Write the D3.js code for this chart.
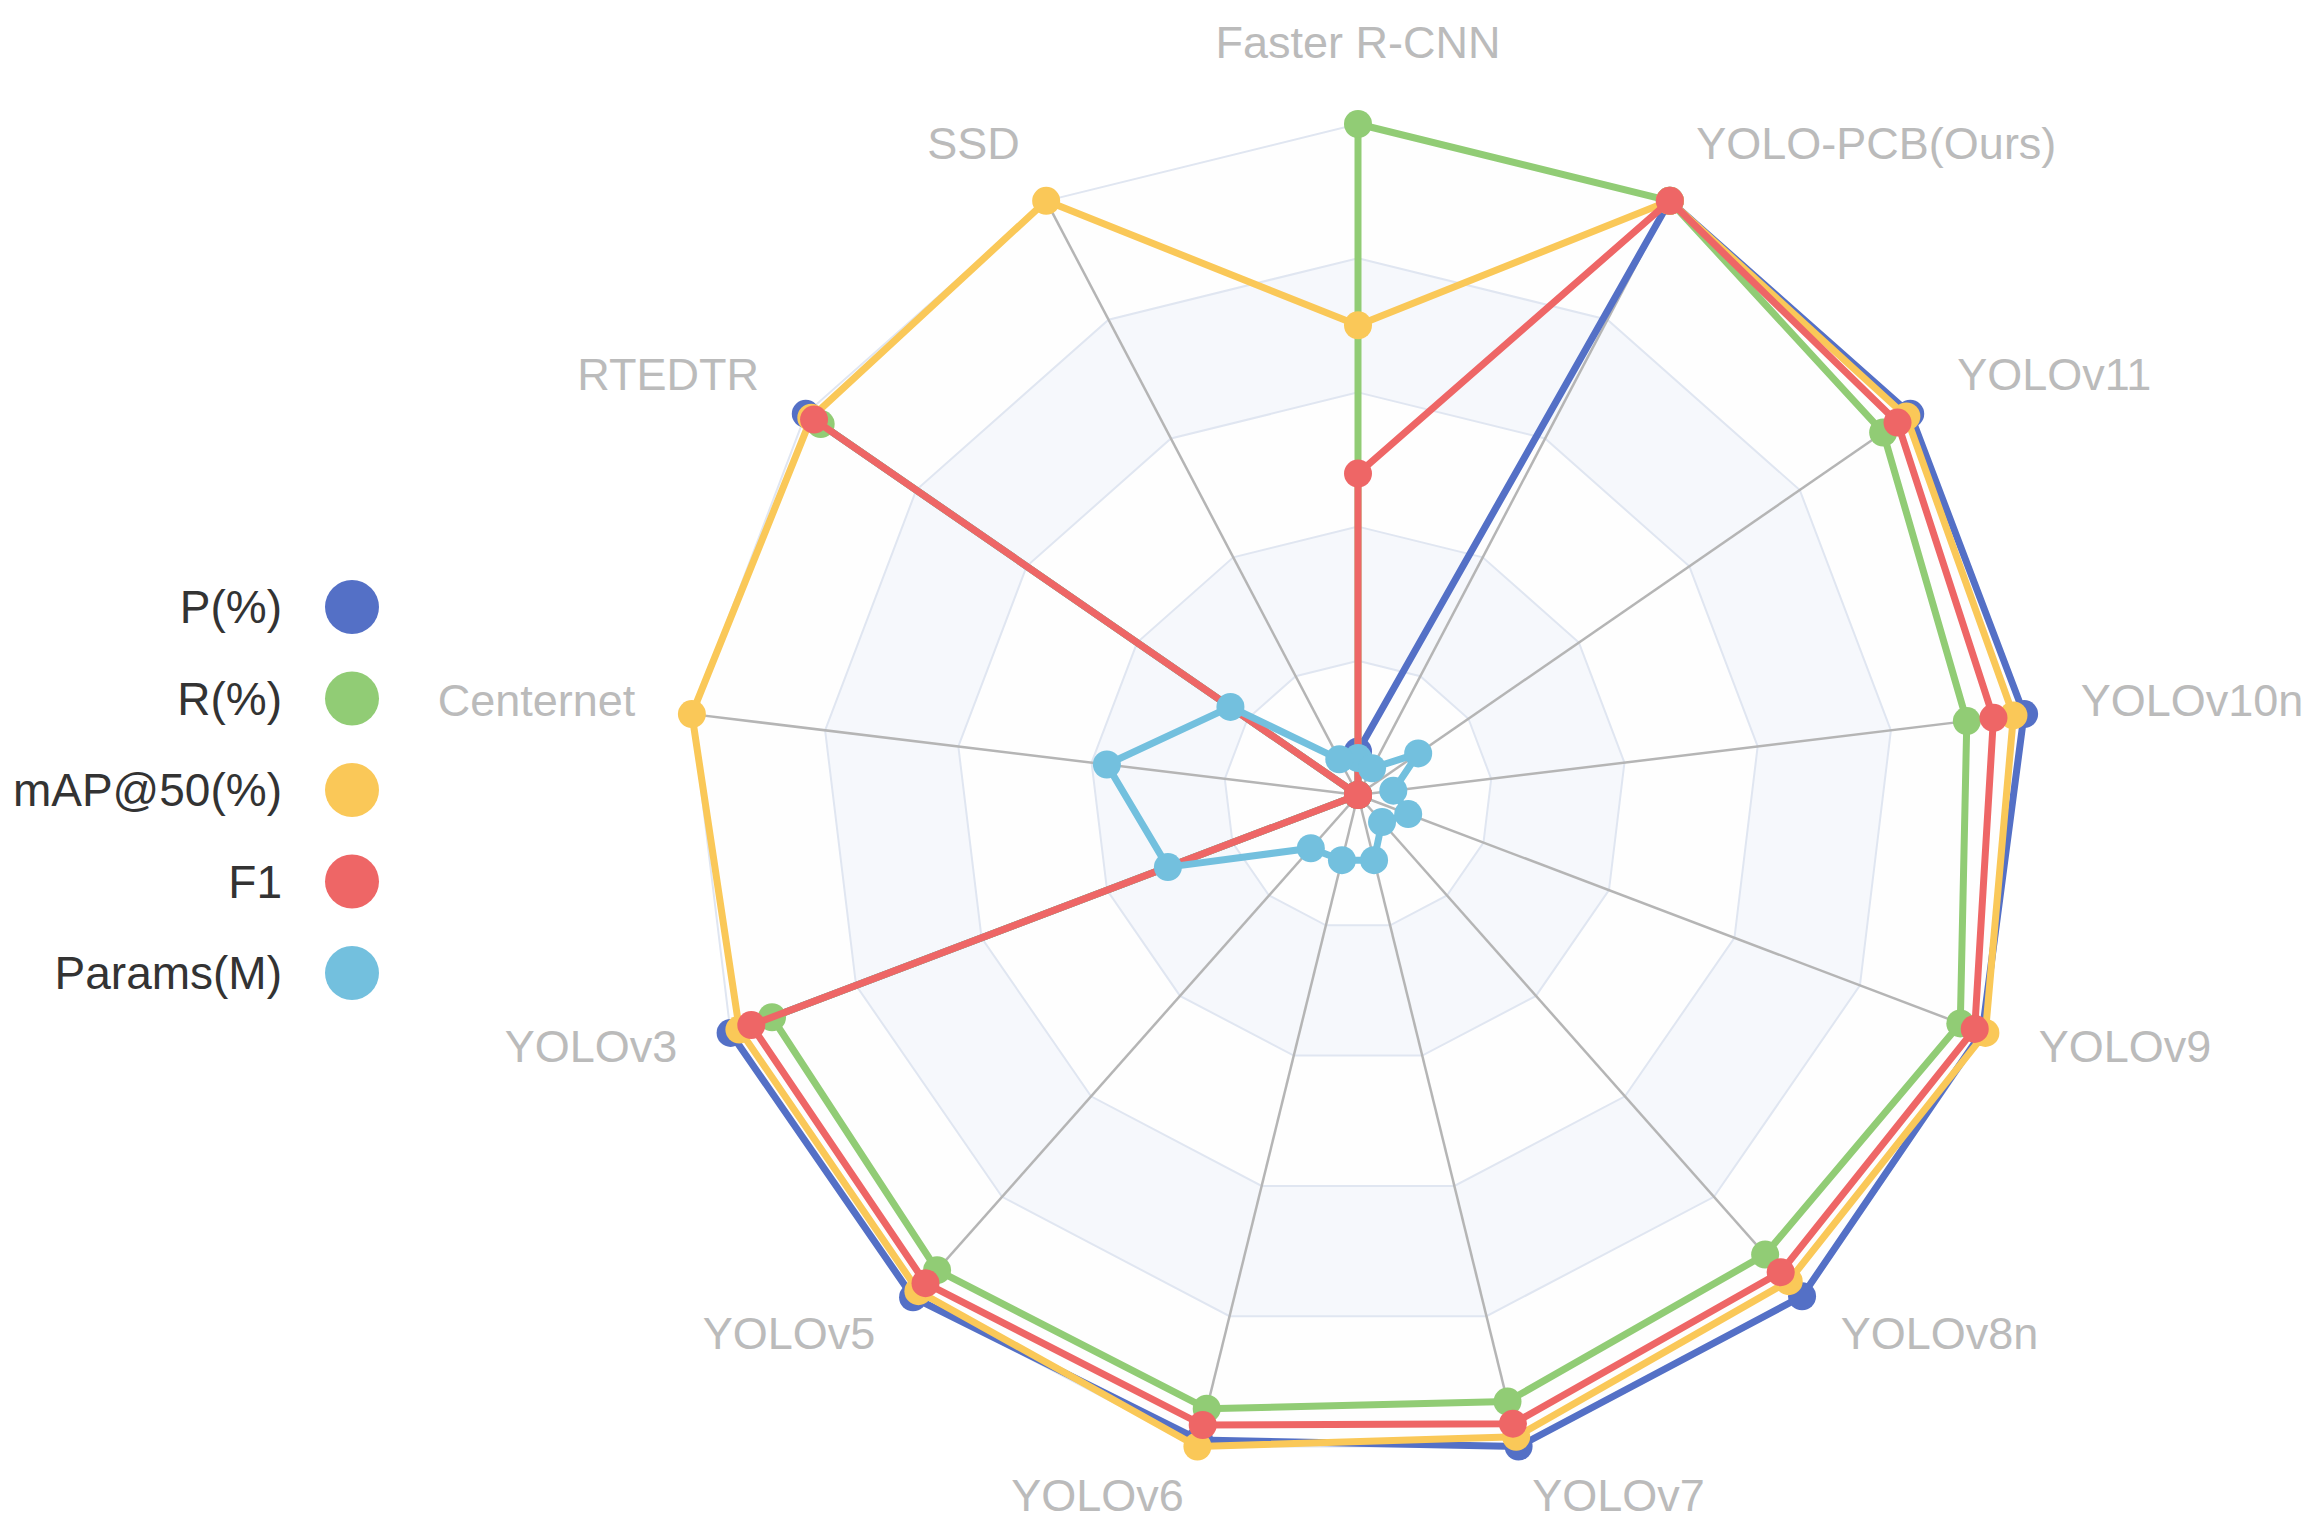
<!DOCTYPE html>
<html>
<head>
<meta charset="utf-8">
<script src="https://cdn.jsdelivr.net/npm/d3@7"></script>
<style>
  body { margin: 0; background: #fff; }
  svg text { font-family: "Liberation Sans", Arial, sans-serif; }
</style>
</head>
<body>
<div id="chart"></div>
<script>
// Canvas and radar geometry
var width  = 2321;
var height = 1535;
var cx = 1358, cy = 795;
var radius = 671;

// Axes (indicators), clockwise from the top
var models = ["Faster R-CNN", "YOLO-PCB(Ours)", "YOLOv11", "YOLOv10n", "YOLOv9",
              "YOLOv8n", "YOLOv7", "YOLOv6", "YOLOv5", "YOLOv3", "Centernet",
              "RTEDTR", "SSD"];

// Series names and colours
var seriesNames = ["P(%)", "R(%)", "mAP@50(%)", "F1", "Params(M)"];
var colors = ["#5470c6", "#91cc75", "#fac858", "#ee6666", "#73c0de"];

// Values (percent of the axis range)
var pValues      = [6.5, 100, 100, 100, 99.5, 99.8, 100, 99, 100, 100, 0, 100, 0];
var rValues      = [100, 100, 95.1, 91.4, 96, 91.5, 93.1, 94.2, 94.6, 93.4, 0, 97.3, 0];
var mapValues    = [70, 100, 99.3, 98.4, 100, 96.8, 98.5, 100, 98.8, 98.6, 100, 99, 100];
var f1Values     = [47.9, 100, 97.7, 95.4, 98.3, 95, 96.5, 96.7, 97.2, 96.7, 0, 98.5, 0];
var paramsValues = [5.5, 4.5, 10.9, 5.3, 8, 5.4, 10, 10, 10.6, 30.3, 37.7, 23.1, 6];

// Split levels of the radar
var levels = [0, 20, 40, 60, 80, 100];

var allSeries = [pValues, rValues, mapValues, f1Values, paramsValues];

var svg = d3.select("#chart").append("svg")
    .attr("width", width)
    .attr("height", height);

svg.append("rect")
    .attr("width", width)
    .attr("height", height)
    .attr("fill", "#fff");

var rScale = d3.scaleLinear().domain([0, 100]).range([0, radius]);
var angle  = d3.scaleLinear().domain([0, models.length]).range([0, 2 * Math.PI]);

var g = svg.append("g").attr("transform", "translate(" + cx + "," + cy + ")");

function pt(i, v) {
    var a = angle(i), r = rScale(v);
    return [r * Math.sin(a), -r * Math.cos(a)];
}

function ringPath(v) {
    return "M" + models.map(function(d, i) { return pt(i, v).join(","); }).join("L") + "Z";
}

// Alternating split areas
var bandColors = ["rgba(250,250,250,0.2)", "rgba(210,219,238,0.2)"];
for (var k = 1; k < levels.length; k++) {
    g.append("path")
        .attr("d", ringPath(levels[k]) + (levels[k - 1] > 0 ? ringPath(levels[k - 1]) : ""))
        .attr("fill-rule", "evenodd")
        .attr("fill", bandColors[(k - 1) % 2]);
}

// Split lines
g.selectAll(".split")
    .data(levels.slice(1))
    .enter().append("path")
    .attr("class", "split")
    .attr("d", ringPath)
    .attr("fill", "none")
    .attr("stroke", "#e0e6f1")
    .attr("stroke-width", 2);

// Axis lines
g.selectAll(".axis")
    .data(models)
    .enter().append("line")
    .attr("class", "axis")
    .attr("x1", 0).attr("y1", 0)
    .attr("x2", function(d, i) { return pt(i, 100)[0]; })
    .attr("y2", function(d, i) { return pt(i, 100)[1]; })
    .attr("stroke", "#b5b5b5")
    .attr("stroke-width", 2.5);

// Axis names
var nameR = radius + 57;
g.selectAll(".name")
    .data(models)
    .enter().append("text")
    .attr("class", "name")
    .attr("x", function(d, i) { return nameR * Math.sin(angle(i)); })
    .attr("y", function(d, i) { return -nameR * Math.cos(angle(i)); })
    .attr("text-anchor", function(d, i) {
        var s = Math.sin(angle(i));
        return Math.abs(s) < 0.01 ? "middle" : (s > 0 ? "start" : "end");
    })
    .attr("dy", function(d, i) {
        var c = Math.cos(angle(i));
        return Math.abs(c) > 0.99 ? (c > 0 ? "-0.2em" : "0.9em") : "0.2em";
    })
    .attr("font-size", "45px")
    .attr("fill", "#bbb")
    .text(function(d) { return d; });

// Series lines and markers
var line = d3.lineRadial()
    .angle(function(d, i) { return angle(i); })
    .radius(function(d) { return rScale(d); })
    .curve(d3.curveLinearClosed);

allSeries.forEach(function(vals, s) {
    var sg = g.append("g");
    sg.append("path")
        .attr("d", line(vals))
        .attr("fill", "none")
        .attr("stroke", colors[s])
        .attr("stroke-width", 7)
        .attr("stroke-linejoin", "round");
    sg.selectAll("circle")
        .data(vals)
        .enter().append("circle")
        .attr("cx", function(d, i) { return pt(i, d)[0]; })
        .attr("cy", function(d, i) { return pt(i, d)[1]; })
        .attr("r", 14)
        .attr("fill", colors[s]);
});

// Legend
var legend = svg.append("g");
var legendItems = legend.selectAll("g")
    .data(seriesNames)
    .enter().append("g")
    .attr("transform", function(d, i) { return "translate(0," + (607 + i * 91.5) + ")"; });

legendItems.append("circle")
    .attr("cx", 352)
    .attr("cy", 0)
    .attr("r", 27)
    .attr("fill", function(d, i) { return colors[i]; });

legendItems.append("text")
    .attr("x", 282)
    .attr("y", 0)
    .attr("dy", "0.35em")
    .attr("text-anchor", "end")
    .attr("font-size", "46px")
    .attr("fill", "#333")
    .text(function(d) { return d; });
</script>
</body>
</html>
